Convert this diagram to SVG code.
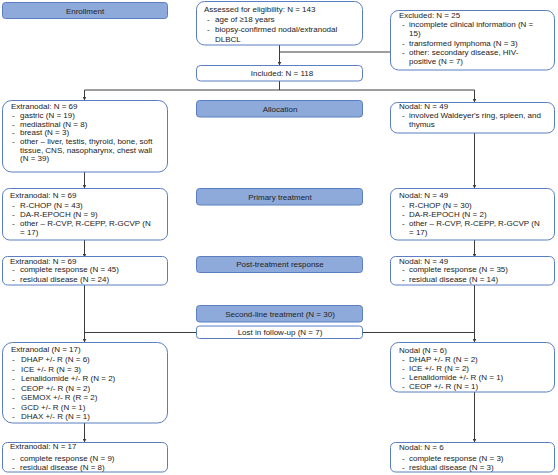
<svg xmlns="http://www.w3.org/2000/svg" width="558" height="475" viewBox="0 0 558 475">
<style>
  text { font-family: "Liberation Sans", Arial, sans-serif; font-size: 8px; fill: #222; }
  .hdr { fill: #8eaadb; stroke: #5a7ec0; stroke-width: 1; }
  .box { fill: #ffffff; stroke: #5a7ec0; stroke-width: 1; }
  .c { text-anchor: middle; }
  .ln { fill: none; stroke: #3c3c3c; stroke-width: 1; }
</style>
<defs>
  <marker id="ah" markerWidth="4" markerHeight="4" refX="3.5" refY="2" orient="auto" markerUnits="userSpaceOnUse">
    <path d="M0,0 L4,2 L0,4 z" fill="#3c3c3c"/>
  </marker>
</defs>
<rect width="558" height="475" fill="#ffffff"/>

<g id="connectors">
  <line class="ln" x1="279.5" y1="45" x2="279.5" y2="65" marker-end="url(#ah)"/>
  <line class="ln" x1="279.5" y1="52" x2="390" y2="52"/>
  <polyline class="ln" points="279.5,81 279.5,90"/>
  <line class="ln" x1="84.5" y1="90" x2="474.5" y2="90"/>
  <line class="ln" x1="84.5" y1="90" x2="84.5" y2="100" marker-end="url(#ah)"/>
  <line class="ln" x1="474.5" y1="90" x2="474.5" y2="102" marker-end="url(#ah)"/>
  <line class="ln" x1="84.5" y1="172" x2="84.5" y2="188" marker-end="url(#ah)"/>
  <line class="ln" x1="474.5" y1="133" x2="474.5" y2="188" marker-end="url(#ah)"/>
  <line class="ln" x1="84.5" y1="240" x2="84.5" y2="257" marker-end="url(#ah)"/>
  <line class="ln" x1="474.5" y1="240" x2="474.5" y2="257" marker-end="url(#ah)"/>
  <line class="ln" x1="84.5" y1="285" x2="84.5" y2="342" marker-end="url(#ah)"/>
  <line class="ln" x1="84.5" y1="332.5" x2="196" y2="332.5"/>
  <line class="ln" x1="474.5" y1="285" x2="474.5" y2="342" marker-end="url(#ah)"/>
  <line class="ln" x1="363" y1="332.5" x2="474.5" y2="332.5"/>
  <line class="ln" x1="84.5" y1="423" x2="84.5" y2="442" marker-end="url(#ah)"/>
  <line class="ln" x1="474.5" y1="392" x2="474.5" y2="442" marker-end="url(#ah)"/>
</g>

<g id="enrollment">
  <rect class="hdr" x="2.5" y="2.5" width="165" height="16" rx="3"/>
  <text class="c" x="85" y="13.5">Enrollment</text>
</g>

<g id="assessed">
  <rect class="box" x="196.5" y="1.5" width="166" height="43.5" rx="8"/>
  <text x="204" y="12">Assessed for eligibility: N = 143</text>
  <text x="207" y="21.5">-</text><text x="215" y="21.5">age of ≥18 years</text>
  <text x="207" y="31.5">-</text><text x="215" y="31.5">biopsy-confirmed nodal/extranodal</text>
  <text x="215" y="41.5">DLBCL</text>
</g>

<g id="excluded">
  <rect class="box" x="390.5" y="10.5" width="164" height="59.5" rx="8"/>
  <text x="399" y="18">Excluded: N = 25</text>
  <text x="402" y="27">-</text><text x="409" y="27">incomplete clinical information (N =</text>
  <text x="409" y="36">15)</text>
  <text x="402" y="45.5">-</text><text x="409" y="45.5">transformed lymphoma (N = 3)</text>
  <text x="402" y="54.5">-</text><text x="409" y="54.5">other: secondary disease, HIV-</text>
  <text x="409" y="64">positive (N = 7)</text>
</g>

<g id="included">
  <rect class="box" x="196.5" y="65.5" width="166" height="15.5" rx="4"/>
  <text class="c" x="282" y="76">Included: N = 118</text>
</g>

<g id="allocation">
  <rect class="hdr" x="196.5" y="100.5" width="166" height="16.5" rx="3"/>
  <text class="c" x="280" y="111.5">Allocation</text>
</g>

<g id="extranodal1">
  <rect class="box" x="2.5" y="100.5" width="165" height="71.5" rx="9"/>
  <text x="11" y="109">Extranodal: N = 69</text>
  <text x="12" y="117.8">-</text><text x="20" y="117.8">gastric (N = 19)</text>
  <text x="12" y="126.5">-</text><text x="20" y="126.5">mediastinal (N = 8)</text>
  <text x="12" y="135.2">-</text><text x="20" y="135.2">breast (N = 3)</text>
  <text x="12" y="143.9">-</text><text x="20" y="143.9">other – liver, testis, thyroid, bone, soft</text>
  <text x="20" y="152.6">tissue, CNS, nasopharynx, chest wall</text>
  <text x="20" y="161.3">(N = 39)</text>
</g>

<g id="nodal1">
  <rect class="box" x="390.5" y="102.5" width="164" height="30.5" rx="7"/>
  <text x="399" y="108.5">Nodal: N = 49</text>
  <text x="402" y="117.5">-</text><text x="409" y="117.5">involved Waldeyer's ring, spleen, and</text>
  <text x="409" y="126.5">thymus</text>
</g>

<g id="primary">
  <rect class="hdr" x="196.5" y="188.5" width="166" height="16.5" rx="3"/>
  <text class="c" x="280" y="199.5">Primary treatment</text>
</g>

<g id="extranodal2">
  <rect class="box" x="2.5" y="188.5" width="165" height="51.5" rx="7"/>
  <text x="10" y="197.5">Extranodal: N = 69</text>
  <text x="12" y="208">-</text><text x="20" y="208">R-CHOP (N = 43)</text>
  <text x="12" y="217">-</text><text x="20" y="217">DA-R-EPOCH (N = 9)</text>
  <text x="12" y="226">-</text><text x="20" y="226">other – R-CVP, R-CEPP, R-GCVP (N</text>
  <text x="20" y="235.3">= 17)</text>
</g>

<g id="nodal2">
  <rect class="box" x="390.5" y="188.5" width="164" height="51.5" rx="7"/>
  <text x="399" y="197.5">Nodal: N = 49</text>
  <text x="402" y="208">-</text><text x="409" y="208">R-CHOP (N = 30)</text>
  <text x="402" y="217">-</text><text x="409" y="217">DA-R-EPOCH (N = 2)</text>
  <text x="402" y="226">-</text><text x="409" y="226">other – R-CVP, R-CEPP, R-GCVP (N</text>
  <text x="409" y="235.3">= 17)</text>
</g>

<g id="posttreatment">
  <rect class="hdr" x="196.5" y="256.5" width="166" height="16" rx="3"/>
  <text class="c" x="280" y="267.3">Post-treatment response</text>
</g>

<g id="extranodal3">
  <rect class="box" x="2.5" y="256.5" width="165" height="28.5" rx="5"/>
  <text x="10" y="263.5">Extranodal: N = 69</text>
  <text x="12" y="272.3">-</text><text x="20" y="272.3">complete response (N = 45)</text>
  <text x="12" y="282">-</text><text x="20" y="282">residual disease (N = 24)</text>
</g>

<g id="nodal3">
  <rect class="box" x="390.5" y="256.5" width="164" height="28.5" rx="5"/>
  <text x="399" y="263.5">Nodal: N = 49</text>
  <text x="402" y="272.3">-</text><text x="409" y="272.3">complete response (N = 35)</text>
  <text x="402" y="282">-</text><text x="409" y="282">residual disease (N = 14)</text>
</g>

<g id="secondline">
  <rect class="hdr" x="196.5" y="305.5" width="166" height="16.5" rx="3"/>
  <text class="c" x="280" y="316.5">Second-line treatment (N = 30)</text>
</g>

<g id="lost">
  <rect class="box" x="196.5" y="326" width="166" height="12.5" rx="3"/>
  <text class="c" x="280" y="335.3">Lost in follow-up (N = 7)</text>
</g>

<g id="extranodal4">
  <rect class="box" x="2.5" y="342.5" width="165" height="80.5" rx="10"/>
  <text x="11" y="352.3">Extranodal (N = 17)</text>
  <text x="12" y="362">-</text><text x="21" y="362">DHAP +/- R (N = 6)</text>
  <text x="12" y="371.7">-</text><text x="21" y="371.7">ICE +/- R (N = 3)</text>
  <text x="12" y="381.4">-</text><text x="21" y="381.4">Lenalidomide +/- R (N = 2)</text>
  <text x="12" y="391">-</text><text x="21" y="391">CEOP +/- R (N = 2)</text>
  <text x="12" y="400">-</text><text x="21" y="400">GEMOX +/- R (R = 2)</text>
  <text x="12" y="409.5">-</text><text x="21" y="409.5">GCD +/- R (N = 1)</text>
  <text x="12" y="419.2">-</text><text x="21" y="419.2">DHAX +/- R (N = 1)</text>
</g>

<g id="nodal4">
  <rect class="box" x="390.5" y="342.5" width="164" height="49.5" rx="8"/>
  <text x="399" y="352.5">Nodal (N = 6)</text>
  <text x="402" y="362">-</text><text x="409" y="362">DHAP +/- R (N = 2)</text>
  <text x="402" y="371">-</text><text x="409" y="371">ICE +/- R (N = 2)</text>
  <text x="402" y="380">-</text><text x="409" y="380">Lenalidomide +/- R (N = 1)</text>
  <text x="402" y="389.3">-</text><text x="409" y="389.3">CEOP +/- R (N = 1)</text>
</g>

<g id="extranodal5">
  <rect class="box" x="2.5" y="442.5" width="165" height="29.5" rx="5"/>
  <text x="10" y="449">Extranodal: N = 17</text>
  <text x="12" y="460.5">-</text><text x="20" y="460.5">complete response (N = 9)</text>
  <text x="12" y="470">-</text><text x="20" y="470">residual disease (N = 8)</text>
</g>

<g id="nodal5">
  <rect class="box" x="390.5" y="442.5" width="164" height="29.5" rx="5"/>
  <text x="399" y="449.5">Nodal: N = 6</text>
  <text x="402" y="461">-</text><text x="409" y="461">complete response (N = 3)</text>
  <text x="402" y="470">-</text><text x="409" y="470">residual disease (N = 3)</text>
</g>
</svg>
